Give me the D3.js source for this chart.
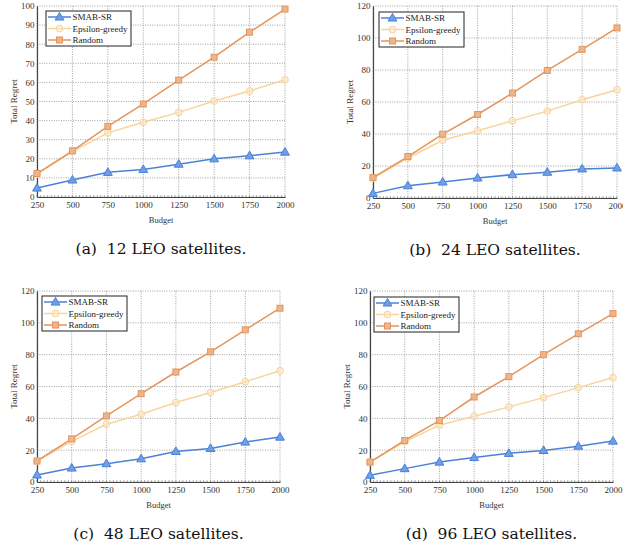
<!DOCTYPE html>
<html>
<head>
<meta charset="utf-8">
<script src="https://cdn.jsdelivr.net/npm/d3@7"></script>
<style>
  body { margin: 0; background: #fff; }
  svg { display: block; }
  text { font-family: "Liberation Serif", "DejaVu Serif", serif; }
  text.caption { font-family: "DejaVu Serif", serif; }
</style>
</head>
<body>
<svg id="chart" width="623" height="550"></svg>
<script>
// budgets on the x axis
const budgets = [250, 500, 750, 1000, 1250, 1500, 1750, 2000];
const seriesNames = ["SMAB-SR", "Epsilon-greedy", "Random"];
const captions = ["(a)\u00a0 12 LEO satellites.", "(b)\u00a0 24 LEO satellites.", "(c)\u00a0 48 LEO satellites.", "(d)\u00a0 96 LEO satellites."];

// (a) 12 satellites
const smab12 = [4.7, 8.9, 12.9, 14.4, 17.2, 20.0, 21.6, 23.5];
const eps12 = [12.0, 23.8, 33.6, 39.1, 44.3, 50.3, 55.5, 61.4];
const rand12 = [12.3, 24.2, 37.0, 48.7, 61.2, 73.2, 86.3, 98.4];
// (b) 24 satellites
const smab24 = [2.9, 7.7, 10.0, 12.5, 14.6, 16.1, 18.2, 18.8];
const eps24 = [12.5, 25.0, 36.1, 42.0, 48.2, 54.3, 61.4, 67.6];
const rand24 = [12.7, 25.9, 39.9, 52.2, 65.6, 79.7, 92.9, 106.3];
// (c) 48 satellites
const smab48 = [4.4, 8.8, 11.5, 14.6, 19.2, 21.1, 25.1, 28.2];
const eps48 = [13.2, 25.5, 36.3, 42.6, 49.9, 56.2, 63.0, 69.9];
const rand48 = [13.2, 27.1, 41.5, 55.5, 69.1, 81.8, 95.6, 109.2];
// (d) 96 satellites
const smab96 = [4.2, 8.4, 12.5, 15.4, 18.0, 19.8, 22.5, 25.7];
const eps96 = [12.5, 25.3, 35.7, 41.3, 47.2, 53.0, 59.3, 65.6];
const rand96 = [12.5, 26.1, 38.6, 53.4, 66.2, 80.0, 93.1, 105.8];

const yTicksA = [0, 10, 20, 30, 40, 50, 60, 70, 80, 90, 100];
const yTicksB = [0, 20, 40, 60, 80, 100, 120];

const colors = ["#4a82d8", "#f7d49c", "#e3955e"];
const fills = ["#6f9ee6", "#fbe7c6", "#eeb58b"];

const panels = [
  { x0: 37, x1: 285, y0: 6, y1: 197, ymax: 100, yticks: yTicksA, data: [smab12, eps12, rand12], legend: [46, 11] },
  { x0: 373, x1: 617, y0: 6, y1: 198, ymax: 120, yticks: yTicksB, data: [smab24, eps24, rand24], legend: [379, 12] },
  { x0: 37, x1: 280, y0: 291, y1: 482, ymax: 120, yticks: yTicksB, data: [smab48, eps48, rand48], legend: [42, 296] },
  { x0: 370, x1: 613, y0: 291, y1: 482, ymax: 120, yticks: yTicksB, data: [smab96, eps96, rand96], legend: [374, 297] }
];

const svg = d3.select("#chart");

function marker(g, k, cx, cy) {
  if (k === 0) {
    g.append("path")
      .attr("d", d3.symbol().type(d3.symbolTriangle).size(34)())
      .attr("transform", `translate(${cx},${cy + 0.5})`)
      .attr("fill", fills[0]).attr("stroke", colors[0]).attr("stroke-width", 1);
  } else if (k === 1) {
    g.append("circle").attr("cx", cx).attr("cy", cy).attr("r", 3.4)
      .attr("fill", fills[1]).attr("fill-opacity", 0.6)
      .attr("stroke", colors[1]).attr("stroke-width", 1);
  } else {
    g.append("rect").attr("x", cx - 3).attr("y", cy - 3).attr("width", 6).attr("height", 6)
      .attr("fill", fills[2]).attr("stroke", colors[2]).attr("stroke-width", 1);
  }
}

panels.forEach((p, i) => {
  const x = d3.scaleLinear().domain([250, 2000]).range([p.x0, p.x1]);
  const y = d3.scaleLinear().domain([0, p.ymax]).range([p.y1, p.y0]);
  const g = svg.append("g");

  // dotted grid
  g.append("g").selectAll("line").data(budgets).join("line")
    .attr("x1", d => x(d)).attr("x2", d => x(d)).attr("y1", p.y0).attr("y2", p.y1)
    .attr("stroke", "#8a8a8a").attr("stroke-width", 0.8).attr("stroke-dasharray", "1,1.4");
  g.append("g").selectAll("line").data(p.yticks).join("line")
    .attr("x1", p.x0).attr("x2", p.x1).attr("y1", d => y(d)).attr("y2", d => y(d))
    .attr("stroke", "#8a8a8a").attr("stroke-width", 0.8).attr("stroke-dasharray", "1,1.4");

  // axes
  const xa = g.append("g").attr("transform", `translate(0,${p.y1})`)
    .call(d3.axisBottom(x).tickValues(budgets).tickSize(0).tickPadding(5).tickFormat(d3.format("d")));
  const ya = g.append("g").attr("transform", `translate(${p.x0},0)`)
    .call(d3.axisLeft(y).tickValues(p.yticks).tickSize(0).tickPadding(2.5));
  [xa, ya].forEach(a => {
    a.select(".domain").attr("stroke", "#444").attr("stroke-width", 1.2);
    a.selectAll("text").attr("font-size", 9).attr("fill", "#333");
  });
  // minor ticks along the budget axis
  g.append("g").selectAll("line").data(d3.range(250, 2001, 25)).join("line")
    .attr("x1", d => x(d)).attr("x2", d => x(d)).attr("y1", p.y1 - 1.8).attr("y2", p.y1)
    .attr("stroke", "#666").attr("stroke-width", 0.6);

  // lines and markers
  const line = d3.line().x((d, j) => x(budgets[j])).y(d => y(d));
  p.data.forEach((vals, k) => {
    g.append("path").datum(vals).attr("d", line)
      .attr("fill", "none").attr("stroke", colors[k]).attr("stroke-width", 1.5);
  });
  p.data.forEach((vals, k) => {
    vals.forEach((v, j) => marker(g, k, x(budgets[j]), y(v)));
  });

  // axis titles
  g.append("text").attr("x", (p.x0 + p.x1) / 2).attr("y", p.y1 + 26)
    .attr("text-anchor", "middle").attr("font-size", 8.5).attr("fill", "#333").text("Budget");
  g.append("text").attr("transform", `translate(${p.x0 - 20},${(p.y0 + p.y1) / 2}) rotate(-90)`)
    .attr("text-anchor", "middle").attr("font-size", 9).attr("fill", "#333").text("Total Regret");

  // legend
  const [lx, ly] = p.legend;
  const lg = g.append("g").attr("transform", `translate(${lx},${ly})`);
  lg.append("rect").attr("width", 85).attr("height", 35)
    .attr("fill", "#fff").attr("stroke", "#222").attr("stroke-width", 1);
  seriesNames.forEach((name, k) => {
    const yy = 6 + k * 11.5;
    lg.append("line").attr("x1", 2).attr("x2", 25).attr("y1", yy).attr("y2", yy)
      .attr("stroke", colors[k]).attr("stroke-width", 1.5);
    marker(lg, k, 13.5, yy);
    lg.append("text").attr("x", 26.5).attr("y", yy + 3.2).attr("font-size", 9).attr("fill", "#222").text(name);
  });

  // caption
  svg.append("text").attr("class", "caption").attr("x", (p.x0 + p.x1) / 2).attr("y", p.y1 + 57)
    .attr("text-anchor", "middle").attr("font-size", 15.5).attr("fill", "#111").text(captions[i]);
});
</script>
</body>
</html>
